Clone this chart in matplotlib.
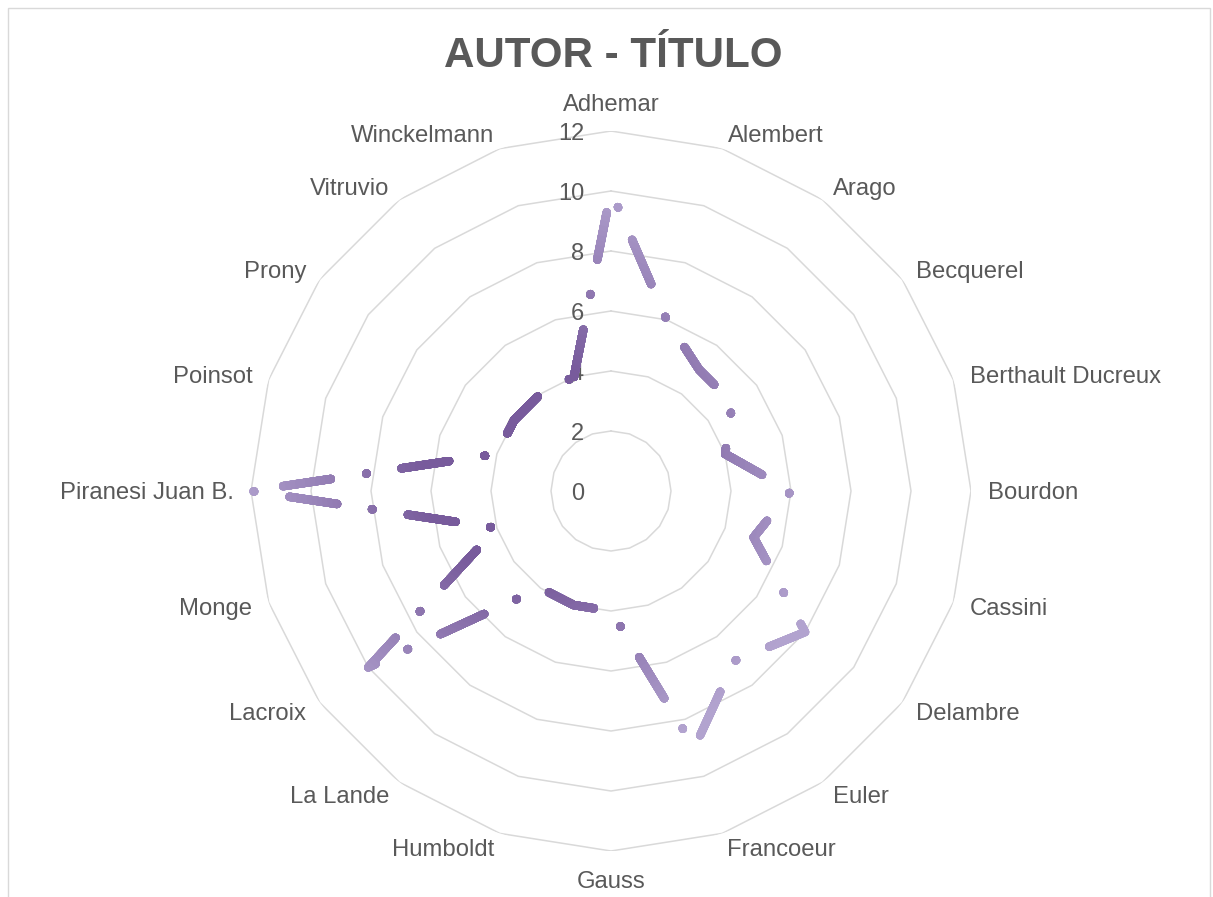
import matplotlib

matplotlib.use("Agg")
import matplotlib.pyplot as plt
import numpy as np
from matplotlib.colors import to_rgb
from matplotlib.patches import Rectangle, Wedge

# categorias (autores) en el orden del grafico, empezando arriba y en sentido horario
autores = [
    "Adhemar", "Alembert", "Arago", "Becquerel", "Berthault Ducreux", "Bourdon",
    "Cassini", "Delambre", "Euler", "Francoeur", "Gauss", "Humboldt", "La Lande",
    "Lacroix", "Monge", "Piranesi Juan B.", "Poinsot", "Prony", "Vitruvio", "Winckelmann",
]
titulos = [10, 6, 5, 5, 4, 6, 5, 8, 7, 9, 4, 4, 4, 10, 4, 12, 4, 4, 4, 4]
escala = [0, 2, 4, 6, 8, 10, 12]

GRIS = "#595959"
REJILLA = "#d9d9d9"
OSCURO = np.array(to_rgb("#785b9c"))
CLARO = np.array(to_rgb("#b2a3cf"))

# guion largo - punto (en puntos, a 100 dpi)
PATRON = (34.6, 25.8, 0.36, 25.4)
# centro del degradado (centro de la caja de la serie, en coords. de ejes)
CENTRO_GRAD = (0.3875, 0.529)


def color_dist(d_px):
    t = np.clip((d_px - 110) / 190.0, 0, 1)
    return OSCURO + (CLARO - OSCURO) * t


def main():
    plt.rcParams["font.family"] = ["Liberation Sans", "DejaVu Sans"]
    plt.rcParams["lines.scale_dashes"] = False

    fig = plt.figure(figsize=(12.13, 8.97), dpi=100)
    fig.patches.append(
        Rectangle((8 / 1213, -0.01), 1202 / 1213, 889 / 897 + 0.01,
                  transform=fig.transFigure, fill=False, edgecolor=REJILLA, lw=1)
    )
    ax = fig.add_axes([251 / 1213, 46 / 897, 720 / 1213, 720 / 897], projection="polar")
    ax.set_theta_zero_location("N")
    ax.set_theta_direction(-1)
    ax.set_ylim(0, escala[-1])
    ax.grid(False)
    ax.spines["polar"].set_visible(False)
    ax.set_xticks([])
    ax.set_yticks([])

    ang = np.linspace(0, 2 * np.pi, len(autores), endpoint=False)
    ang_c = np.append(ang, ang[0])

    # anillos poligonales de la rejilla
    for v in escala[1:]:
        ax.plot(ang_c, [v] * len(ang_c), color=REJILLA, lw=1.1, zorder=1)

    for v in escala:
        ax.annotate(str(v), xy=(0, v), xytext=(-27, -2.5), textcoords="offset pixels",
                    ha="right", va="center", fontsize=17, color=GRIS,
                    annotation_clip=False, zorder=2)

    # la serie: tramo principal y tramo de cierre (el patron empieza de nuevo)
    tramos = [
        (ang, np.array(titulos, dtype=float), 47.8),
        ([ang[-1], ang[0]], [titulos[-1], titulos[0]], 0.0),
    ]
    # degradado: discos de mayor a menor, cada uno encima del anterior
    for d in np.arange(340, 0, -5):
        color = color_dist(d - 2.5)
        for th, rr, off in tramos:
            (ln,) = ax.plot(th, rr, color=color, lw=6.0, ls=(off, PATRON),
                            dash_capstyle="round", dash_joinstyle="round", zorder=3)
            ln.set_clip_path(Wedge(CENTRO_GRAD, d / 720, 0, 360, transform=ax.transAxes))

    for a, nombre in zip(ang, autores):
        s, c = np.sin(a), np.cos(a)
        ha = "left" if s > 0.01 else ("right" if s < -0.01 else "center")
        va = "center"
        dy = 15.5 * c - 2
        if abs(s) < 0.01:
            va = "bottom" if c > 0 else "top"
            dy = 15 * c if c > 0 else 20 * c
        ax.annotate(nombre, xy=(a, escala[-1]), xytext=(17 * s, dy),
                    textcoords="offset pixels", ha=ha, va=va, fontsize=17.2,
                    color=GRIS, annotation_clip=False)

    fig.text(613 / 1213, 1 - 67 / 897, "AUTOR - TÍTULO", ha="center", va="baseline",
             fontsize=30.3, fontweight="bold", color=GRIS)

    fig.savefig("out.png", dpi=100)
    plt.close(fig)


if __name__ == "__main__":
    main()
